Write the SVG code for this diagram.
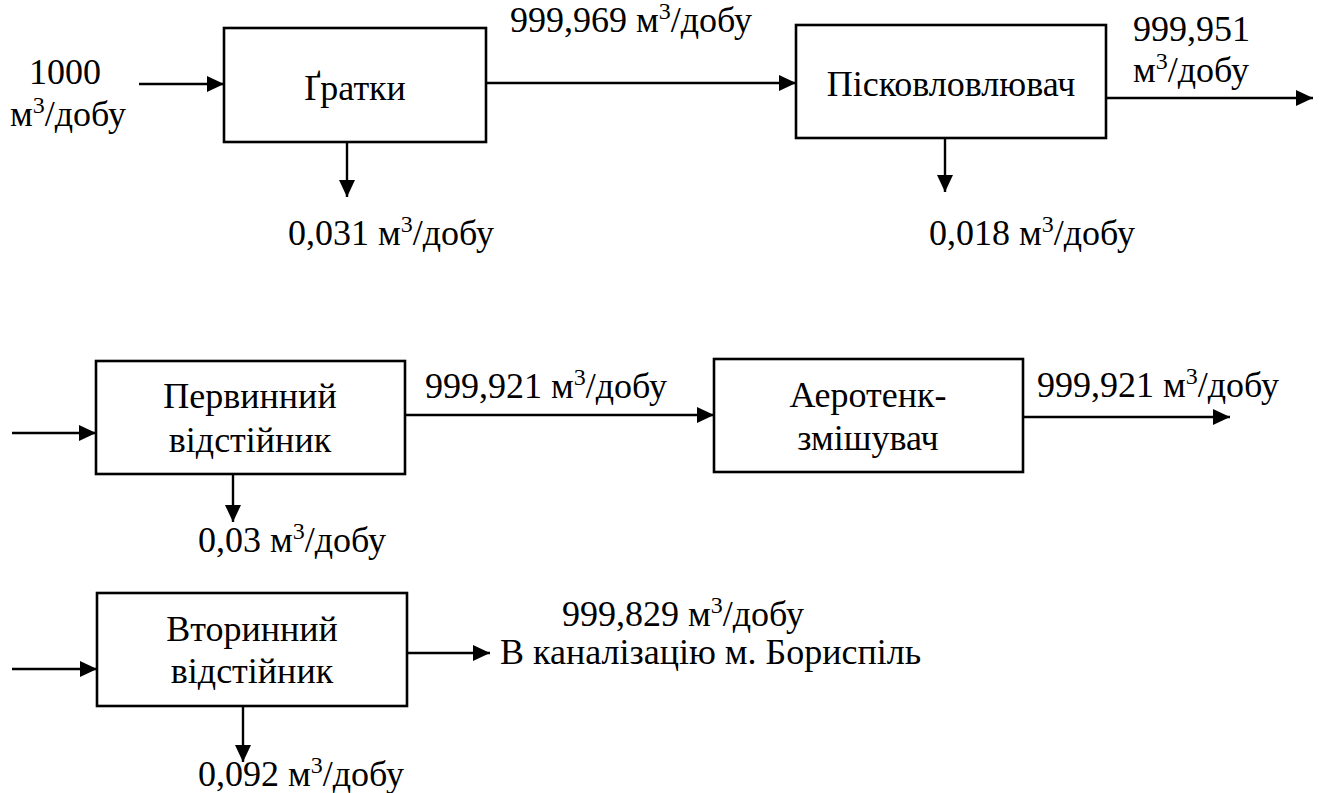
<svg xmlns="http://www.w3.org/2000/svg" width="1321" height="793" viewBox="0 0 1321 793">
<style>
  .box { fill: #ffffff; stroke: #000000; stroke-width: 2.6; }
  .lbl { font-family: 'Liberation Serif', 'DejaVu Serif', serif; font-size: 36px; fill: #000000; }
  .mid { text-anchor: middle; }
  .sup { font-size: 24px; }
  .conn { stroke: #000000; stroke-width: 2.4; fill: none; marker-end: url(#arr); }
</style>
<defs>
  <marker id="arr" markerUnits="userSpaceOnUse" markerWidth="17" markerHeight="16" refX="17" refY="8" orient="auto">
    <path d="M0,0 L17,8 L0,16 z" fill="#000000"/>
  </marker>
</defs>
<rect width="1321" height="793" fill="#ffffff"/>

<g id="connectors">
  <line class="conn" x1="139" y1="84" x2="224" y2="84"/>
  <line class="conn" x1="486" y1="83" x2="796" y2="83"/>
  <line class="conn" x1="1106" y1="98" x2="1313" y2="98"/>
  <line class="conn" x1="347" y1="142" x2="347" y2="197"/>
  <line class="conn" x1="945" y1="138" x2="945" y2="192"/>
  <line class="conn" x1="12" y1="433" x2="96" y2="433"/>
  <line class="conn" x1="405" y1="415" x2="714" y2="415"/>
  <line class="conn" x1="1023" y1="417" x2="1230" y2="417"/>
  <line class="conn" x1="233" y1="474" x2="233" y2="522"/>
  <line class="conn" x1="12" y1="669" x2="97" y2="669"/>
  <line class="conn" x1="407" y1="653" x2="490" y2="653"/>
  <line class="conn" x1="243" y1="706" x2="243" y2="762"/>
</g>

<g id="labels">
  <text class="lbl" x="29" y="84">1000</text>
  <text class="lbl" x="10" y="126">м<tspan class="sup" dy="-13">3</tspan><tspan dy="13">/добу</tspan></text>
  <text class="lbl" x="510" y="32">999,969 м<tspan class="sup" dy="-13">3</tspan><tspan dy="13">/добу</tspan></text>
  <text class="lbl" x="1133" y="41">999,951</text>
  <text class="lbl" x="1133" y="82">м<tspan class="sup" dy="-13">3</tspan><tspan dy="13">/добу</tspan></text>
  <text class="lbl" x="288" y="245">0,031 м<tspan class="sup" dy="-13">3</tspan><tspan dy="13">/добу</tspan></text>
  <text class="lbl" x="929" y="245">0,018 м<tspan class="sup" dy="-13">3</tspan><tspan dy="13">/добу</tspan></text>
  <text class="lbl" x="425" y="398">999,921 м<tspan class="sup" dy="-13">3</tspan><tspan dy="13">/добу</tspan></text>
  <text class="lbl" x="1037" y="397">999,921 м<tspan class="sup" dy="-13">3</tspan><tspan dy="13">/добу</tspan></text>
  <text class="lbl" x="198" y="552">0,03 м<tspan class="sup" dy="-13">3</tspan><tspan dy="13">/добу</tspan></text>
  <text class="lbl" x="562" y="626">999,829 м<tspan class="sup" dy="-13">3</tspan><tspan dy="13">/добу</tspan></text>
  <text class="lbl" x="500" y="664">В каналізацію м. Бориспіль</text>
  <text class="lbl" x="198" y="786">0,092 м<tspan class="sup" dy="-13">3</tspan><tspan dy="13">/добу</tspan></text>
</g>

<g id="node-hratky">
  <rect class="box" x="224" y="28" width="262" height="114"/>
  <text class="lbl mid" x="355" y="100">Ґратки</text>
</g>
<g id="node-piskovlovliuvach">
  <rect class="box" x="796" y="25" width="310" height="113"/>
  <text class="lbl mid" x="951" y="96">Пісковловлювач</text>
</g>
<g id="node-pervynnyi">
  <rect class="box" x="96" y="361" width="309" height="113"/>
  <text class="lbl mid" x="250" y="408">Первинний</text>
  <text class="lbl mid" x="250" y="452">відстійник</text>
</g>
<g id="node-aerotenk">
  <rect class="box" x="714" y="359" width="309" height="113"/>
  <text class="lbl mid" x="868" y="407">Аеротенк-</text>
  <text class="lbl mid" x="868" y="450">змішувач</text>
</g>
<g id="node-vtorynnyi">
  <rect class="box" x="97" y="593" width="310" height="113"/>
  <text class="lbl mid" x="252" y="641">Вторинний</text>
  <text class="lbl mid" x="252" y="683">відстійник</text>
</g>
</svg>
